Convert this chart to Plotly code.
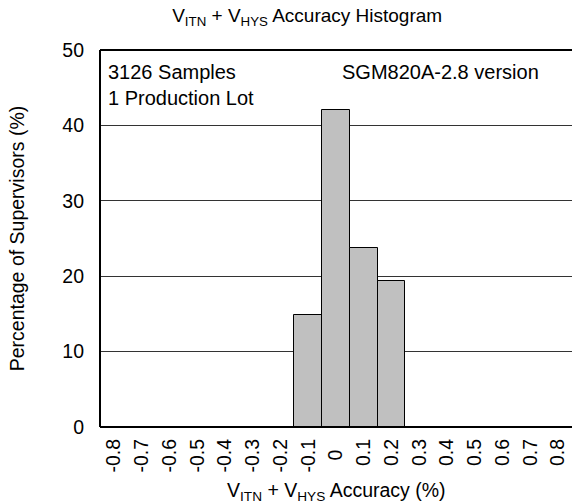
import plotly.graph_objects as go

categories = ["-0.8", "-0.7", "-0.6", "-0.5", "-0.4", "-0.3", "-0.2", "-0.1", "0",
              "0.1", "0.2", "0.3", "0.4", "0.5", "0.6", "0.7", "0.8"]
percent = [None, None, None, None, None, None, None, 14.8, 42.0, 23.8, 19.4,
           None, None, None, None, None, None]
tick_labels = [c if c != "0" else "\u00a0\u00a00\u00a0\u00a0" for c in categories]
y_ticks = [0, 10, 20, 30, 40, 50]

FONT = "Liberation Sans, Arial, sans-serif"
FS = 19.5

fig = go.Figure()
fig.add_trace(go.Bar(
    x=categories, y=percent,
    marker=dict(color="#c0c0c0", line=dict(color="black", width=1)),
    showlegend=False, hoverinfo="skip",
))

# frame: top, bottom and left edges of the plot area
frame = dict(color="black", width=2)
fig.add_shape(type="line", xref="paper", yref="paper", x0=0, x1=1, y0=1, y1=1, line=frame)
fig.add_shape(type="line", xref="paper", yref="paper", x0=0, x1=1, y0=0, y1=0, line=frame)
fig.add_shape(type="line", xref="paper", yref="paper", x0=0, x1=0, y0=0, y1=1, line=frame)

fig.update_layout(
    template="none",
    width=572, height=504,
    margin=dict(l=100, r=0, t=50, b=77, autoexpand=False),
    paper_bgcolor="white", plot_bgcolor="white",
    font=dict(family=FONT, color="black", size=FS),
    bargap=0,
    title=dict(text="V<sub>ITN</sub> + V<sub>HYS</sub> Accuracy Histogram",
               x=0.537, xanchor="center", xref="container",
               y=1 - 15 / 504, yanchor="middle", yref="container",
               font=dict(size=19)),
    xaxis=dict(
        type="category", categoryorder="array", categoryarray=categories,
        tickmode="array", tickvals=categories, ticktext=tick_labels,
        tickangle=-90, tickfont=dict(size=FS), showgrid=False, zeroline=False,
        showline=False, ticks="", ticklabelstandoff=7, automargin=False,
    ),
    yaxis=dict(
        range=[0, 50], tickmode="array", tickvals=y_ticks,
        tickfont=dict(size=FS), showgrid=True, gridcolor="#333333", gridwidth=1,
        showline=False, zeroline=False,
        ticks="", ticklabelstandoff=15, automargin=False,
        title=dict(text="Percentage of Supervisors (%)", font=dict(size=FS), standoff=32),
    ),
)

fig.add_annotation(text="V<sub>ITN</sub> + V<sub>HYS</sub> Accuracy (%)",
                   xref="paper", yref="paper", x=0.5, y=-0.172,
                   xanchor="center", yanchor="middle", showarrow=False,
                   font=dict(size=FS))
fig.add_annotation(text="3126 Samples<br>1 Production Lot", xref="paper", yref="paper",
                   x=0.012, y=0.977, xanchor="left", yanchor="top", align="left",
                   showarrow=False, font=dict(size=20))
fig.add_annotation(text="SGM820A-2.8 version", xref="paper", yref="paper",
                   x=0.934, y=0.977, xanchor="right", yanchor="top", align="left",
                   showarrow=False, bgcolor="white", font=dict(size=20))

fig.write_html("out.html", config={"displayModeBar": False},
               post_script="document.body.style.margin='0';")
